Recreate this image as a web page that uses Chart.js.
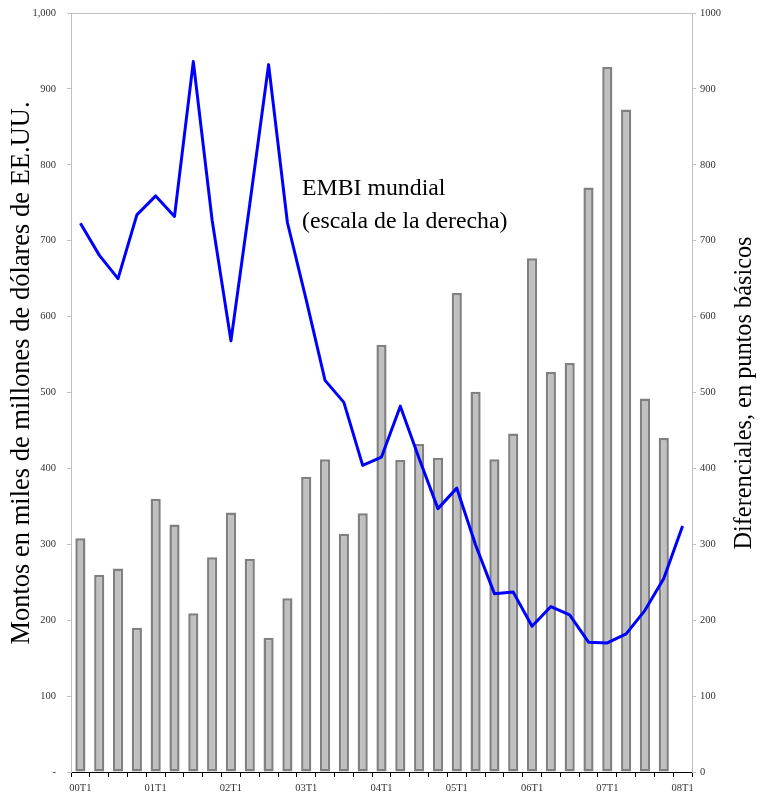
<!DOCTYPE html>
<html>
<head>
<meta charset="utf-8">
<script src="https://cdn.jsdelivr.net/npm/chart.js@4.4.0/dist/chart.umd.min.js"></script>
<style>
  html, body { margin: 0; padding: 0; background: #fff; }
  #grafico { display: block; }
</style>
</head>
<body>
<canvas id="grafico" width="758" height="794"></canvas>
<script>
// trimestres 2000T1 - 2008T1
const trimestres = [
  '00T1', '00T2', '00T3', '00T4',
  '01T1', '01T2', '01T3', '01T4',
  '02T1', '02T2', '02T3', '02T4',
  '03T1', '03T2', '03T3', '03T4',
  '04T1', '04T2', '04T3', '04T4',
  '05T1', '05T2', '05T3', '05T4',
  '06T1', '06T2', '06T3', '06T4',
  '07T1', '07T2', '07T3', '07T4',
  '08T1'
]

// montos (miles de millones de dolares), eje izquierdo
const montos = [
  308, 260, 268, 190,
  360, 326, 209, 283,
  342, 281, 177, 229,
  389, 412, 314, 341,
  563, 411, 432, 414,
  631, 501, 412, 446,
  677, 527, 539, 770,
  929, 873, 492, 440,
  null
]

// EMBI mundial (puntos basicos), eje derecho
const embi = [
  723, 681, 650, 734,
  759, 732, 936, 727,
  568, 748, 932, 724,
  622, 516, 487, 404,
  415, 482, 413, 347,
  374, 299, 235, 237,
  192, 218, 207, 171,
  170, 182, 213, 255,
  324
]

const tituloIzq = 'Montos en miles de millones de dólares de EE.UU.'
const tituloDer = 'Diferenciales, en puntos básicos'
const notaEmbi = ['EMBI mundial', '(escala de la derecha)']

const fuente = "'Liberation Serif', 'Times New Roman', serif"

const textosExtra = {
  id: 'textosExtra',
  afterDraw(chart) {
    const ctx = chart.ctx
    const a = chart.chartArea
    ctx.save()
    // borde superior del area
    ctx.strokeStyle = '#c0c0c0'
    ctx.lineWidth = 1
    ctx.beginPath()
    ctx.moveTo(a.left, a.top + 0.5)
    ctx.lineTo(a.right, a.top + 0.5)
    ctx.stroke()

    ctx.fillStyle = '#000'
    ctx.textAlign = 'center'
    ctx.textBaseline = 'middle'

    ctx.font = '26.5px ' + fuente
    ctx.save()
    ctx.translate(22, 373)
    ctx.rotate(-Math.PI / 2)
    ctx.fillText(tituloIzq, 0, 0)
    ctx.restore()

    ctx.font = '24.3px ' + fuente
    ctx.save()
    ctx.translate(745, 393)
    ctx.rotate(-Math.PI / 2)
    ctx.fillText(tituloDer, 0, 0)
    ctx.restore()

    // nota del EMBI
    ctx.font = '23.8px ' + fuente
    ctx.textAlign = 'left'
    ctx.fillText(notaEmbi[0], 302, 189)
    ctx.fillText(notaEmbi[1], 302, 222)
    ctx.restore()
  }
}

const ejeTicks = {
  font: { family: fuente, size: 10.5 },
  color: '#333'
}

function sinRelleno(s) {
  s.paddingTop = 0
  s.paddingBottom = 0
  s.paddingLeft = 0
  s.paddingRight = 0
}

new Chart(document.getElementById('grafico'), {
  data: {
    labels: trimestres,
    datasets: [
      {
        type: 'line',
        label: 'EMBI mundial',
        data: embi,
        yAxisID: 'y2',
        borderColor: '#0000ff',
        borderWidth: 3,
        borderJoinStyle: 'round',
        pointRadius: 0,
        tension: 0,
        order: 0
      },
      {
        type: 'bar',
        label: 'Montos',
        data: montos,
        yAxisID: 'y',
        backgroundColor: '#c0c0c0',
        borderColor: '#808080',
        borderWidth: 2.5,
        borderSkipped: false,
        categoryPercentage: 1,
        barPercentage: 0.54,
        order: 1
      }
    ]
  },
  options: {
    responsive: false,
    animation: false,
    devicePixelRatio: 1,
    layout: { padding: { top: 13, left: 0, right: 0, bottom: 0 } },
    plugins: {
      legend: { display: false },
      tooltip: { enabled: false }
    },
    scales: {
      x: {
        type: 'category',
        offset: true,
        grid: {
          offset: true,
          drawOnChartArea: false,
          drawTicks: true,
          tickLength: 5,
          color: '#000'
        },
        border: { color: '#000', width: 1 },
        ticks: {
          ...ejeTicks,
          autoSkip: false,
          maxRotation: 0,
          minRotation: 0,
          padding: 5,
          callback: function (value, index) {
            const t = trimestres[index]
            return t.endsWith('T1') ? t : ''
          }
        },
        afterFit(s) { s.height = 22; sinRelleno(s) }
      },
      y: {
        position: 'left',
        min: 0,
        max: 1000,
        grid: { drawOnChartArea: false, tickLength: 4, color: '#c0c0c0' },
        border: { color: '#c0c0c0', width: 1 },
        ticks: {
          ...ejeTicks,
          stepSize: 100,
          padding: 11,
          callback: v => v === 0 ? '-' : v.toLocaleString('en-US')
        },
        afterFit(s) { s.width = 71; sinRelleno(s) }
      },
      y2: {
        position: 'right',
        min: 0,
        max: 1000,
        grid: { drawOnChartArea: false, tickLength: 4, color: '#c0c0c0' },
        border: { color: '#c0c0c0', width: 1 },
        ticks: {
          ...ejeTicks,
          stepSize: 100,
          padding: 4,
          callback: v => String(v)
        },
        afterFit(s) { s.width = 66; sinRelleno(s) }
      }
    }
  },
  plugins: [textosExtra]
})
</script>
</body>
</html>
